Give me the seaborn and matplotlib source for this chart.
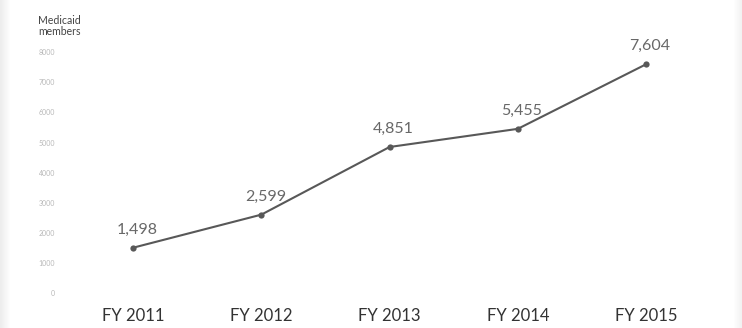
import numpy as np
import pandas as pd
import matplotlib
matplotlib.use("Agg")
import matplotlib.pyplot as plt
import seaborn as sns

# Medicaid members by fiscal year
years = ["FY 2011", "FY 2012", "FY 2013", "FY 2014", "FY 2015"]
members = [1498, 2599, 4851, 5455, 7604]
y_ticks = [0, 1000, 2000, 3000, 4000, 5000, 6000, 7000, 8000]

df = pd.DataFrame({"year": years, "members": members})

sns.set_theme(style="white")
plt.rcParams["font.family"] = ["Lato", "DejaVu Sans"]

fig = plt.figure(figsize=(7.42, 3.28), dpi=100)
fig.patch.set_facecolor("white")

# soft grey shading along the page edges
w = 742
shade = np.ones((328, w))
left = np.clip(1 - np.arange(w) / 10.0, 0, 1)
right = np.clip(1 - (w - 1 - np.arange(w)) / 8.0, 0, 1)
shade -= 0.07 * left[None, :] + 0.05 * right[None, :]
fig.figimage(np.dstack([shade] * 3), xo=0, yo=0, zorder=-5)

ax = fig.add_axes([0.093, 0.1076, 0.864, 0.7326])
ax.set_zorder(2)
ax.patch.set_alpha(0)

sns.lineplot(data=df, x="year", y="members", ax=ax, color="#585858",
             linewidth=1.5, marker="o", markersize=4.5,
             markeredgewidth=0, sort=False)

for i, v in enumerate(members):
    ax.annotate(f"{v:,}", (i, v), xytext=(3, 8), textcoords="offset points",
                ha="center", va="bottom", fontsize=11.5, color="#686868")

ax.set_xlim(-0.5, 4.5)
ax.set_ylim(0, 8000)
ax.set_yticks(y_ticks)
ax.set_yticklabels([str(t) for t in y_ticks], fontsize=5, color="#b8b8b8")
ax.tick_params(axis="y", length=0, pad=10)
ax.tick_params(axis="x", length=0, pad=11, labelsize=12, labelcolor="#333333")
ax.set_xlabel("")
ax.set_ylabel("")
ax.grid(False)
for s in ax.spines.values():
    s.set_visible(False)

fig.text(0.051, 0.955, "Medicaid\nmembers", ha="left", va="top",
         multialignment="left", fontsize=7.6, color="#444444",
         linespacing=1.0, zorder=3)

fig.savefig("out.png", dpi=100, facecolor="white")
